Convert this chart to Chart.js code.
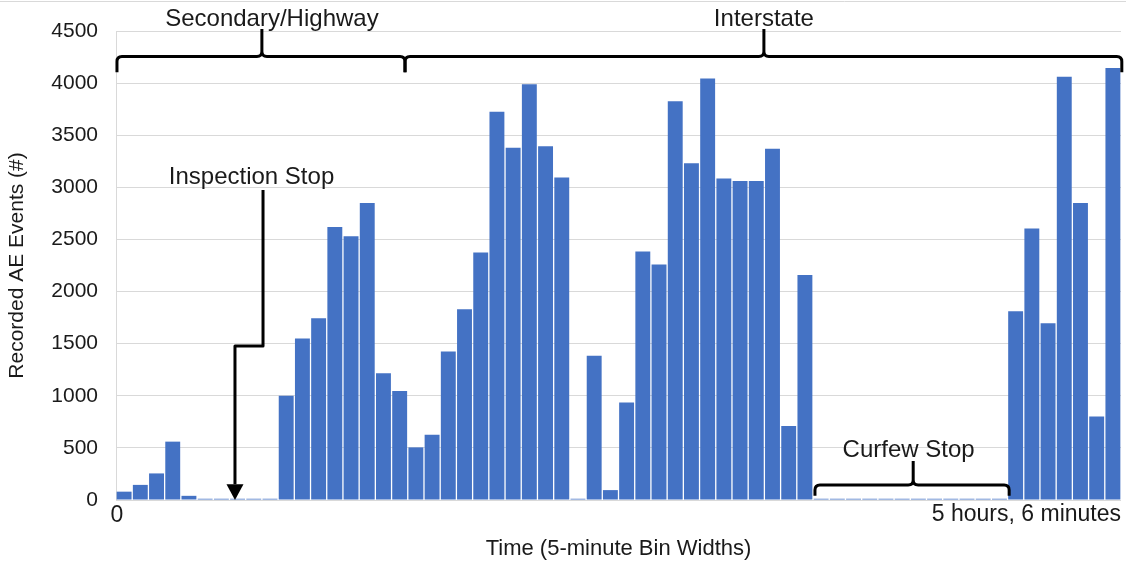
<!DOCTYPE html>
<html>
<head>
<meta charset="utf-8">
<title>Recorded AE Events</title>
<script src="https://cdn.jsdelivr.net/npm/chart.js@4.4.1/dist/chart.umd.min.js"></script>
<style>
  html, body { margin: 0; padding: 0; background: #fff; }
  canvas { display: block; }
</style>
</head>
<body>
<canvas id="aeChart" width="1126" height="565"></canvas>
<script>
// bin start times (minutes), one bar per 5-minute bin
const binStarts = [0, 5, 10, 15, 20, 25, 30, 35, 40, 45, 50, 55, 60, 65, 70, 75, 80, 85, 90, 95,
  100, 105, 110, 115, 120, 125, 130, 135, 140, 145, 150, 155, 160, 165, 170, 175, 180, 185, 190, 195,
  200, 205, 210, 215, 220, 225, 230, 235, 240, 245, 250, 255, 260, 265, 270, 275, 280, 285, 290, 295,
  300, 305];

// recorded AE events per bin
const aeEvents = [80, 145, 255, 560, 40, 12, 12, 12, 12, 12,
  1000, 1550, 1745, 2620, 2530, 2850, 1215, 1045, 505, 625,
  1425, 1830, 2375, 3725, 3380, 3990, 3395, 3095, 12, 1385,
  95, 935, 2385, 2260, 3825, 3230, 4045, 3085, 3060, 3060,
  3370, 710, 2160, 12, 12, 12, 12, 12, 12, 12,
  12, 12, 12, 12, 12, 1810, 2605, 1695, 4060, 2850,
  800, 4145];

const yTicks = [0, 500, 1000, 1500, 2000, 2500, 3000, 3500, 4000, 4500];
const xEndLabels = ['0', '5 hours, 6 minutes'];
const segmentNames = ['Secondary/Highway', 'Interstate'];
const stopNames = ['Inspection Stop', 'Curfew Stop'];

const FONT = "'Liberation Sans', Arial, sans-serif";

// braces and arrow, placed in data units (x = bin edge, y = events)
function drawBrace(ctx, x0, x1, xm, yLine, yEnd, yTip, r) {
  ctx.beginPath();
  ctx.moveTo(x0, yEnd);
  ctx.lineTo(x0, yLine + r);
  ctx.quadraticCurveTo(x0, yLine, x0 + r, yLine);
  ctx.lineTo(xm - r, yLine);
  ctx.quadraticCurveTo(xm, yLine, xm, yLine - r);
  ctx.lineTo(xm, yTip);
  ctx.moveTo(xm, yLine - r);
  ctx.quadraticCurveTo(xm, yLine, xm + r, yLine);
  ctx.lineTo(x1 - r, yLine);
  ctx.quadraticCurveTo(x1, yLine, x1, yLine + r);
  ctx.lineTo(x1, yEnd);
  ctx.stroke();
}

const annotations = {
  id: 'annotations',
  beforeDraw(chart) {
    const ctx = chart.ctx;
    ctx.save();
    ctx.fillStyle = '#fff';
    ctx.fillRect(0, 0, chart.width, chart.height);
    ctx.strokeStyle = '#d9d9d9';
    ctx.lineWidth = 1;
    ctx.beginPath();
    ctx.moveTo(0, 1.5);
    ctx.lineTo(chart.width, 1.5);
    ctx.stroke();
    ctx.restore();
  },
  afterDraw(chart) {
    const { ctx, scales: { x, y } } = chart;
    const ex = e => x.getPixelForValue(e - 0.5);
    const py = v => y.getPixelForValue(v);

    ctx.save();
    ctx.strokeStyle = '#000';
    ctx.fillStyle = '#000';
    ctx.lineWidth = 3;
    ctx.lineJoin = 'round';
    ctx.lineCap = 'butt';

    // road segments along the top
    drawBrace(ctx, ex(0.06), ex(17.83), ex(9.0), py(4255), py(4105), py(4520), 5);
    drawBrace(ctx, ex(17.83), ex(62.05), ex(39.97), py(4255), py(4105), py(4520), 5);
    // curfew stop
    drawBrace(ctx, ex(43.12), ex(55.1), ex(49.18), py(144), py(40), py(374), 5);

    // inspection stop arrow
    ctx.beginPath();
    ctx.moveTo(ex(9.07), py(2975));
    ctx.lineTo(ex(9.07), py(1478));
    ctx.lineTo(ex(7.34), py(1478));
    ctx.lineTo(ex(7.34), py(150));
    ctx.stroke();
    ctx.beginPath();
    ctx.moveTo(ex(7.34) - 8.5, py(150));
    ctx.lineTo(ex(7.34) + 8.5, py(150));
    ctx.lineTo(ex(7.34), py(0));
    ctx.closePath();
    ctx.fill();

    // labels
    ctx.font = '24px ' + FONT;
    ctx.fillStyle = '#1a1a1a';
    ctx.textAlign = 'center';
    ctx.textBaseline = 'middle';
    ctx.fillText(segmentNames[0], ex(9.62), py(4615));
    ctx.fillText(segmentNames[1], ex(39.97), py(4615));
    ctx.fillText(stopNames[0], ex(8.36), py(3100));
    ctx.fillText(stopNames[1], ex(48.9), py(480));

    // x end labels
    ctx.font = '23px ' + FONT;
    ctx.fillText(xEndLabels[0], x.left + 1, y.bottom + 16);
    ctx.textAlign = 'right';
    ctx.fillText(xEndLabels[1], x.right, y.bottom + 15);
    ctx.restore();
  }
};

const ctx = document.getElementById('aeChart').getContext('2d');

new Chart(ctx, {
  type: 'bar',
  data: {
    labels: binStarts,
    datasets: [{
      label: 'Recorded AE Events (#)',
      data: aeEvents,
      backgroundColor: '#4472c4',
      borderWidth: 0,
      barPercentage: 0.92,
      categoryPercentage: 1
    }]
  },
  options: {
    responsive: false,
    animation: false,
    layout: { padding: { top: 31, right: 5, bottom: 0, left: 0 } },
    plugins: {
      legend: { display: false },
      tooltip: { enabled: false }
    },
    scales: {
      x: {
        grid: { display: false },
        border: { display: false },
        ticks: { display: false },
        title: {
          display: true,
          text: 'Time (5-minute Bin Widths)',
          color: '#1a1a1a',
          font: { family: FONT, size: 22 },
          padding: { top: 0, bottom: 3 }
        },
        afterFit: s => { s.height = 65; }
      },
      y: {
        min: 0,
        max: 4500,
        afterBuildTicks: s => { s.ticks = yTicks.map(v => ({ value: v })); },
        grid: { color: '#d9d9d9', lineWidth: 1, drawTicks: false },
        border: { display: true, color: '#d9d9d9' },
        ticks: {
          color: '#1a1a1a',
          font: { family: FONT, size: 21 },
          padding: 18,
          callback: v => String(v)
        },
        title: {
          display: true,
          text: 'Recorded AE Events (#)',
          color: '#1a1a1a',
          font: { family: FONT, size: 21 },
          padding: { top: 5, bottom: 0 }
        },
        afterFit: s => { s.width = 116; }
      }
    }
  },
  plugins: [annotations]
});
</script>
</body>
</html>
